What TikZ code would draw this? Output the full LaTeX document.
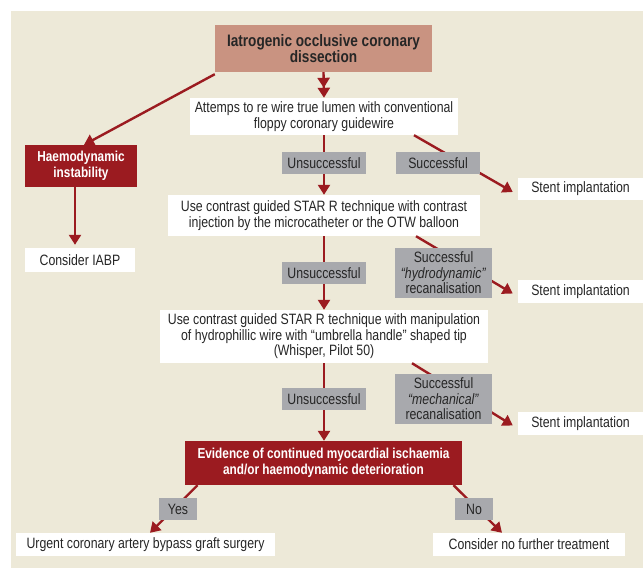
\documentclass[tikz,border=0pt]{standalone}
\usepackage{fontspec}
\setmainfont{Liberation Sans}[FakeStretch=0.82]
\usetikzlibrary{arrows.meta,calc}
\definecolor{bg}{HTML}{EDE9D8}
\definecolor{dred}{HTML}{9B1B20}
\definecolor{salmon}{HTML}{C99381}
\definecolor{lgray}{HTML}{A8A9AD}
\definecolor{txt}{HTML}{262626}
\tikzset{
  base/.style={inner sep=0pt, align=center, font=\fontsize{15}{15.5}\selectfont},
  wbox/.style={base, fill=white, text=txt},
  rbox/.style={base, fill=dred, text=white, font=\fontsize{14.4}{15.5}\selectfont\bfseries},
  tbox/.style={base, fill=salmon, text=txt, font=\fontsize{16.6}{15.5}\selectfont\bfseries},
  glabel/.style={base, fill=lgray, text=txt},
  arr/.style={draw=dred, line width=2.4pt, -{Triangle[length=10pt,width=12pt]}},
  darr/.style={draw=dred, line width=2.4pt, -{Triangle[length=10pt,width=12pt]Triangle[length=10pt,width=12pt]}},
}
\begin{document}
\begin{tikzpicture}[x=1pt,y=-1pt]
\useasboundingbox (0,0) rectangle (643,571);
\fill[bg] (11,11) rectangle (643,568);

% nodes
\node[tbox, minimum width=217pt, minimum height=47pt] (top) at (323.5,48.5) {Iatrogenic occlusive coronary\\dissection};
\node[wbox, minimum width=268pt, minimum height=37pt] (att) at (324,116.5) {Attemps to re wire true lumen with conventional\\floppy coronary guidewire};
\node[rbox, minimum width=112pt, minimum height=42pt] (haem) at (81,166) {Haemodynamic\\instability};
\node[wbox, minimum width=110pt, minimum height=24pt] (iabp) at (80,260) {Consider IABP};
\node[wbox, minimum width=125pt, minimum height=22pt] (stent1) at (580.5,189) {Stent implantation};
\node[wbox, minimum width=312pt, minimum height=41pt] (box2) at (324,215.5) {Use contrast guided STAR R technique with contrast\\injection by the microcatheter or the OTW balloon};
\node[wbox, minimum width=125pt, minimum height=23pt] (stent2) at (580.5,291.5) {Stent implantation};
\node[wbox, minimum width=328pt, minimum height=53pt] (box3) at (324,336.5) {Use contrast guided STAR R technique with manipulation\\of hydrophillic wire with “umbrella handle” shaped tip\\(Whisper, Pilot 50)};
\node[wbox, minimum width=125pt, minimum height=23pt] (stent3) at (580.5,423.5) {Stent implantation};
\node[rbox, minimum width=277pt, minimum height=44pt] (evid) at (323.5,463) {Evidence of continued myocardial ischaemia\\and/or haemodynamic deterioration};
\node[wbox, minimum width=259pt, minimum height=23pt] (urgent) at (145.5,544.5) {Urgent coronary artery bypass graft surgery};
\node[wbox, minimum width=192pt, minimum height=23pt] (nofur) at (529,544.5) {Consider no further treatment};

% connectors
\draw[darr] (top.south) -- (att.north);
\draw[arr] ([yshift=-2]top.south west) -- ([xshift=3]haem.north);
\draw[arr, shorten >=3pt] ([xshift=-6]haem.south) -- ([xshift=-6]haem.south |- iabp.north);
\draw[arr] (att.south) -- (att.south |- box2.north);
\draw[arr] ([xshift=90]att.south) -- ([shift={(-5,3)}]stent1.west);
\draw[arr] (box2.south) -- (box2.south |- box3.north);
\draw[arr] ([xshift=92]box2.south) -- ([shift={(-5,2)}]stent2.west);
\draw[arr] (box3.south) -- (box3.south |- evid.north);
\draw[arr] ([xshift=88]box3.south) -- ([shift={(-5,2)}]stent3.west);
\draw[arr] ([xshift=-126]evid.south) -- ([xshift=4.5]urgent.north);
\draw[arr] ([xshift=130]evid.south) -- ([xshift=-27]nofur.north);

% labels on connectors
\node[glabel, minimum width=84pt, minimum height=22pt] (uns1) at (324,163) {Unsuccessful};
\node[glabel, minimum width=84pt, minimum height=22pt] (succ1) at (438,163) {Successful};
\node[glabel, minimum width=84pt, minimum height=22pt] (uns2) at (324,273) {Unsuccessful};
\node[glabel, minimum width=97pt, minimum height=50pt] (hydro) at (443.5,273) {Successful\\\textit{“hydrodynamic”}\\recanalisation};
\node[glabel, minimum width=84pt, minimum height=22pt] (uns3) at (324,399) {Unsuccessful};
\node[glabel, minimum width=97pt, minimum height=50pt] (mech) at (443.5,399) {Successful\\\textit{“mechanical”}\\recanalisation};
\node[glabel, minimum width=38pt, minimum height=22pt] (yes) at (178,509) {Yes};
\node[glabel, minimum width=38pt, minimum height=22pt] (no) at (474,509) {No};
\end{tikzpicture}
\end{document}
